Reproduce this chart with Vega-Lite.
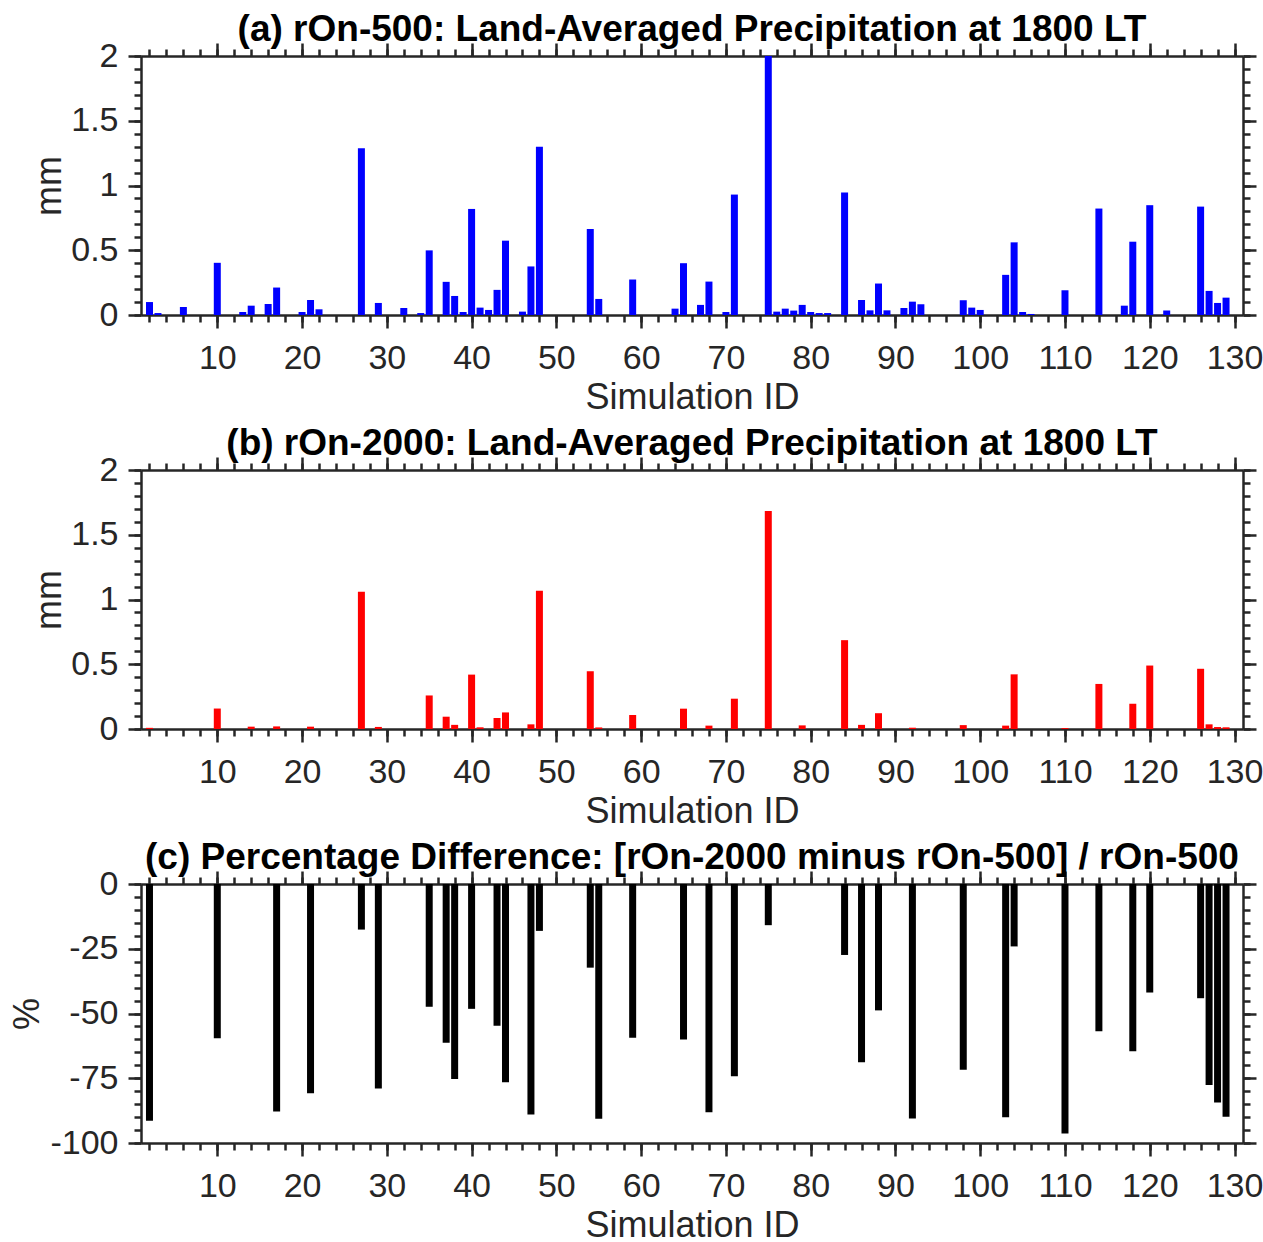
{
  "$schema": "https://vega.github.io/schema/vega-lite/v6.json",
  "background": "white",
  "padding": {"left": 9, "top": 11, "right": 0, "bottom": 0},
  "spacing": 10,
  "datasets": {
    "sims": [
      {"id": 2, "p500": 0.10, "p2000": 0.009, "pct": -91.4},
      {"id": 3, "p500": 0.015, "p2000": null, "pct": null},
      {"id": 6, "p500": 0.062, "p2000": null, "pct": null},
      {"id": 10, "p500": 0.403, "p2000": 0.158, "pct": -59.6},
      {"id": 13, "p500": 0.023, "p2000": null, "pct": null},
      {"id": 14, "p500": 0.072, "p2000": 0.018, "pct": null},
      {"id": 16, "p500": 0.085, "p2000": null, "pct": null},
      {"id": 17, "p500": 0.212, "p2000": 0.02, "pct": -87.8},
      {"id": 20, "p500": 0.023, "p2000": null, "pct": null},
      {"id": 21, "p500": 0.116, "p2000": 0.018, "pct": -80.8},
      {"id": 22, "p500": 0.044, "p2000": null, "pct": null},
      {"id": 27, "p500": 1.287, "p2000": 1.059, "pct": -17.6},
      {"id": 29, "p500": 0.093, "p2000": 0.016, "pct": -79.0},
      {"id": 32, "p500": 0.054, "p2000": null, "pct": null},
      {"id": 34, "p500": 0.015, "p2000": null, "pct": null},
      {"id": 35, "p500": 0.499, "p2000": 0.259, "pct": -47.4},
      {"id": 37, "p500": 0.256, "p2000": 0.095, "pct": -61.3},
      {"id": 38, "p500": 0.147, "p2000": 0.032, "pct": -75.3},
      {"id": 39, "p500": 0.023, "p2000": null, "pct": null},
      {"id": 40, "p500": 0.819, "p2000": 0.42, "pct": -48.2},
      {"id": 41, "p500": 0.057, "p2000": 0.013, "pct": null},
      {"id": 42, "p500": 0.039, "p2000": null, "pct": null},
      {"id": 43, "p500": 0.194, "p2000": 0.085, "pct": -54.7},
      {"id": 44, "p500": 0.574, "p2000": 0.128, "pct": -76.5},
      {"id": 46, "p500": 0.026, "p2000": null, "pct": null},
      {"id": 47, "p500": 0.375, "p2000": 0.036, "pct": -89.0},
      {"id": 48, "p500": 1.30, "p2000": 1.067, "pct": -18.1},
      {"id": 54, "p500": 0.664, "p2000": 0.446, "pct": -32.3},
      {"id": 55, "p500": 0.124, "p2000": 0.012, "pct": -90.6},
      {"id": 59, "p500": 0.274, "p2000": 0.108, "pct": -59.4},
      {"id": 64, "p500": 0.049, "p2000": null, "pct": null},
      {"id": 65, "p500": 0.40, "p2000": 0.157, "pct": -60.0},
      {"id": 67, "p500": 0.078, "p2000": null, "pct": null},
      {"id": 68, "p500": 0.258, "p2000": 0.026, "pct": -88.1},
      {"id": 70, "p500": 0.023, "p2000": null, "pct": null},
      {"id": 71, "p500": 0.930, "p2000": 0.234, "pct": -74.2},
      {"id": 75, "p500": 2.01, "p2000": 1.684, "pct": -15.9},
      {"id": 76, "p500": 0.026, "p2000": null, "pct": null},
      {"id": 77, "p500": 0.049, "p2000": null, "pct": null},
      {"id": 78, "p500": 0.034, "p2000": null, "pct": null},
      {"id": 79, "p500": 0.078, "p2000": 0.028, "pct": null},
      {"id": 80, "p500": 0.023, "p2000": null, "pct": null},
      {"id": 81, "p500": 0.015, "p2000": null, "pct": null},
      {"id": 82, "p500": 0.015, "p2000": null, "pct": null},
      {"id": 84, "p500": 0.946, "p2000": 0.686, "pct": -27.4},
      {"id": 86, "p500": 0.116, "p2000": 0.032, "pct": -68.8},
      {"id": 87, "p500": 0.036, "p2000": null, "pct": null},
      {"id": 88, "p500": 0.243, "p2000": 0.122, "pct": -48.8},
      {"id": 89, "p500": 0.036, "p2000": null, "pct": null},
      {"id": 91, "p500": 0.054, "p2000": null, "pct": null},
      {"id": 92, "p500": 0.103, "p2000": 0.01, "pct": -90.5},
      {"id": 93, "p500": 0.083, "p2000": null, "pct": null},
      {"id": 98, "p500": 0.114, "p2000": 0.03, "pct": -71.7},
      {"id": 99, "p500": 0.057, "p2000": null, "pct": null},
      {"id": 100, "p500": 0.039, "p2000": null, "pct": null},
      {"id": 103, "p500": 0.310, "p2000": 0.026, "pct": -90.1},
      {"id": 104, "p500": 0.561, "p2000": 0.422, "pct": -24.1},
      {"id": 105, "p500": 0.023, "p2000": null, "pct": null},
      {"id": 106, "p500": 0.008, "p2000": null, "pct": null},
      {"id": 110, "p500": 0.191, "p2000": 0.007, "pct": -96.3},
      {"id": 114, "p500": 0.822, "p2000": 0.348, "pct": -56.9},
      {"id": 117, "p500": 0.072, "p2000": null, "pct": null},
      {"id": 118, "p500": 0.566, "p2000": 0.195, "pct": -64.6},
      {"id": 120, "p500": 0.848, "p2000": 0.49, "pct": -41.9},
      {"id": 122, "p500": 0.034, "p2000": null, "pct": null},
      {"id": 126, "p500": 0.837, "p2000": 0.465, "pct": -44.1},
      {"id": 127, "p500": 0.186, "p2000": 0.036, "pct": -77.6},
      {"id": 128, "p500": 0.093, "p2000": 0.015, "pct": -84.4},
      {"id": 129, "p500": 0.134, "p2000": 0.013, "pct": -89.9}
    ]
  },
  "vconcat": [
    {
      "width": 1102, "height": 259,
      "data": {"name": "sims"},
      "title": {"text": "(a) rOn-500: Land-Averaged Precipitation at 1800 LT", "fontSize": 37, "fontWeight": "bold", "font": "Liberation Sans", "color": "#000000", "frame": "group", "anchor": "middle", "baseline": "alphabetic", "offset": -39},
      "layer": [
        {"mark": {"type": "bar", "orient": "vertical", "color": "#0000FF", "width": 7, "clip": true},
         "encoding": {
           "x": {"field": "id", "type": "quantitative", "scale": {"domain": [1, 131], "nice": false, "zero": false, "padding": 0},
                 "axis": {"orient": "bottom", "values": [10,20,30,40,50,60,70,80,90,100,110,120,130], "tickSize": 13, "labelPadding": 13, "title": "Simulation ID", "titlePadding": 5, "labelExpr": "datum.value + ''"}},
           "y": {"field": "p500", "type": "quantitative", "scale": {"domain": [0, 2], "nice": false, "padding": 0},
                 "axis": {"orient": "left", "values": [0, 0.5, 1, 1.5, 2], "tickSize": 13, "labelPadding": 10, "title": "mm", "titlePadding": 2, "labelExpr": "datum.value + ''"}}
         }},
        {"mark": {"type": "bar", "orient": "vertical", "opacity": 0, "width": 7},
         "encoding": {
           "x": {"field": "id", "type": "quantitative", "axis": {"orient": "top", "values": [10,20,30,40,50,60,70,80,90,100,110,120,130], "tickSize": 13, "labels": false, "title": null}},
           "y": {"field": "p500", "type": "quantitative", "axis": {"orient": "right", "values": [0, 0.5, 1, 1.5, 2], "tickSize": 13, "labels": false, "title": null}}
         }},
        {"mark": {"type": "bar", "orient": "vertical", "opacity": 0, "width": 7},
         "encoding": {
           "x": {"field": "id", "type": "quantitative", "axis": {"orient": "bottom", "values": [2,4,6,8,10,12,14,16,18,20,22,24,26,28,30,32,34,36,38,40,42,44,46,48,50,52,54,56,58,60,62,64,66,68,70,72,74,76,78,80,82,84,86,88,90,92,94,96,98,100,102,104,106,108,110,112,114,116,118,120,122,124,126,128,130], "tickSize": 7, "labels": false, "domain": false, "title": null}},
           "y": {"field": "p500", "type": "quantitative", "axis": {"orient": "left", "values": [0,0.1,0.2,0.3,0.4,0.5,0.6,0.7,0.8,0.9,1,1.1,1.2,1.3,1.4,1.5,1.6,1.7,1.8,1.9,2], "tickSize": 7, "labels": false, "domain": false, "title": null}}
         }},
        {"mark": {"type": "bar", "orient": "vertical", "opacity": 0, "width": 7},
         "encoding": {
           "x": {"field": "id", "type": "quantitative", "axis": {"orient": "top", "values": [2,4,6,8,10,12,14,16,18,20,22,24,26,28,30,32,34,36,38,40,42,44,46,48,50,52,54,56,58,60,62,64,66,68,70,72,74,76,78,80,82,84,86,88,90,92,94,96,98,100,102,104,106,108,110,112,114,116,118,120,122,124,126,128,130], "tickSize": 7, "labels": false, "domain": false, "title": null}},
           "y": {"field": "p500", "type": "quantitative", "axis": {"orient": "right", "values": [0,0.1,0.2,0.3,0.4,0.5,0.6,0.7,0.8,0.9,1,1.1,1.2,1.3,1.4,1.5,1.6,1.7,1.8,1.9,2], "tickSize": 7, "labels": false, "domain": false, "title": null}}
         }}
      ]
    },
    {
      "width": 1102, "height": 259,
      "data": {"name": "sims"},
      "title": {"text": "(b) rOn-2000: Land-Averaged Precipitation at 1800 LT", "fontSize": 37, "fontWeight": "bold", "font": "Liberation Sans", "color": "#000000", "frame": "group", "anchor": "middle", "baseline": "alphabetic", "offset": -39},
      "layer": [
        {"mark": {"type": "bar", "orient": "vertical", "color": "#FF0000", "width": 7, "clip": true},
         "encoding": {
           "x": {"field": "id", "type": "quantitative", "scale": {"domain": [1, 131], "nice": false, "zero": false, "padding": 0},
                 "axis": {"orient": "bottom", "values": [10,20,30,40,50,60,70,80,90,100,110,120,130], "tickSize": 13, "labelPadding": 13, "title": "Simulation ID", "titlePadding": 5, "labelExpr": "datum.value + ''"}},
           "y": {"field": "p2000", "type": "quantitative", "scale": {"domain": [0, 2], "nice": false, "padding": 0},
                 "axis": {"orient": "left", "values": [0, 0.5, 1, 1.5, 2], "tickSize": 13, "labelPadding": 10, "title": "mm", "titlePadding": 2, "labelExpr": "datum.value + ''"}}
         }},
        {"mark": {"type": "bar", "orient": "vertical", "opacity": 0, "width": 7},
         "encoding": {
           "x": {"field": "id", "type": "quantitative", "axis": {"orient": "top", "values": [10,20,30,40,50,60,70,80,90,100,110,120,130], "tickSize": 13, "labels": false, "title": null}},
           "y": {"field": "p2000", "type": "quantitative", "axis": {"orient": "right", "values": [0, 0.5, 1, 1.5, 2], "tickSize": 13, "labels": false, "title": null}}
         }},
        {"mark": {"type": "bar", "orient": "vertical", "opacity": 0, "width": 7},
         "encoding": {
           "x": {"field": "id", "type": "quantitative", "axis": {"orient": "bottom", "values": [2,4,6,8,10,12,14,16,18,20,22,24,26,28,30,32,34,36,38,40,42,44,46,48,50,52,54,56,58,60,62,64,66,68,70,72,74,76,78,80,82,84,86,88,90,92,94,96,98,100,102,104,106,108,110,112,114,116,118,120,122,124,126,128,130], "tickSize": 7, "labels": false, "domain": false, "title": null}},
           "y": {"field": "p2000", "type": "quantitative", "axis": {"orient": "left", "values": [0,0.1,0.2,0.3,0.4,0.5,0.6,0.7,0.8,0.9,1,1.1,1.2,1.3,1.4,1.5,1.6,1.7,1.8,1.9,2], "tickSize": 7, "labels": false, "domain": false, "title": null}}
         }},
        {"mark": {"type": "bar", "orient": "vertical", "opacity": 0, "width": 7},
         "encoding": {
           "x": {"field": "id", "type": "quantitative", "axis": {"orient": "top", "values": [2,4,6,8,10,12,14,16,18,20,22,24,26,28,30,32,34,36,38,40,42,44,46,48,50,52,54,56,58,60,62,64,66,68,70,72,74,76,78,80,82,84,86,88,90,92,94,96,98,100,102,104,106,108,110,112,114,116,118,120,122,124,126,128,130], "tickSize": 7, "labels": false, "domain": false, "title": null}},
           "y": {"field": "p2000", "type": "quantitative", "axis": {"orient": "right", "values": [0,0.1,0.2,0.3,0.4,0.5,0.6,0.7,0.8,0.9,1,1.1,1.2,1.3,1.4,1.5,1.6,1.7,1.8,1.9,2], "tickSize": 7, "labels": false, "domain": false, "title": null}}
         }}
      ]
    },
    {
      "width": 1102, "height": 259,
      "data": {"name": "sims"},
      "transform": [{"filter": "isValid(datum.pct)"}],
      "title": {"text": "(c) Percentage Difference: [rOn-2000 minus rOn-500] / rOn-500", "fontSize": 37, "fontWeight": "bold", "font": "Liberation Sans", "color": "#000000", "frame": "group", "anchor": "middle", "baseline": "alphabetic", "offset": -39},
      "layer": [
        {"mark": {"type": "bar", "orient": "vertical", "color": "#000000", "width": 7, "clip": true},
         "encoding": {
           "x": {"field": "id", "type": "quantitative", "scale": {"domain": [1, 131], "nice": false, "zero": false, "padding": 0},
                 "axis": {"orient": "bottom", "values": [10,20,30,40,50,60,70,80,90,100,110,120,130], "tickSize": 13, "labelPadding": 13, "title": "Simulation ID", "titlePadding": 5, "labelExpr": "datum.value + ''"}},
           "y": {"field": "pct", "type": "quantitative", "scale": {"domain": [-100, 0], "nice": false, "padding": 0},
                 "axis": {"orient": "left", "values": [-100, -75, -50, -25, 0], "tickSize": 13, "labelPadding": 10, "title": "%", "titlePadding": 3, "labelExpr": "datum.value + ''"}}
         }},
        {"mark": {"type": "bar", "orient": "vertical", "opacity": 0, "width": 7},
         "encoding": {
           "x": {"field": "id", "type": "quantitative", "axis": {"orient": "top", "values": [10,20,30,40,50,60,70,80,90,100,110,120,130], "tickSize": 13, "labels": false, "title": null}},
           "y": {"field": "pct", "type": "quantitative", "axis": {"orient": "right", "values": [-100, -75, -50, -25, 0], "tickSize": 13, "labels": false, "title": null}}
         }},
        {"mark": {"type": "bar", "orient": "vertical", "opacity": 0, "width": 7},
         "encoding": {
           "x": {"field": "id", "type": "quantitative", "axis": {"orient": "bottom", "values": [2,4,6,8,10,12,14,16,18,20,22,24,26,28,30,32,34,36,38,40,42,44,46,48,50,52,54,56,58,60,62,64,66,68,70,72,74,76,78,80,82,84,86,88,90,92,94,96,98,100,102,104,106,108,110,112,114,116,118,120,122,124,126,128,130], "tickSize": 7, "labels": false, "domain": false, "title": null}},
           "y": {"field": "pct", "type": "quantitative", "axis": {"orient": "left", "values": [-100,-95,-90,-85,-80,-75,-70,-65,-60,-55,-50,-45,-40,-35,-30,-25,-20,-15,-10,-5,0], "tickSize": 7, "labels": false, "domain": false, "title": null}}
         }},
        {"mark": {"type": "bar", "orient": "vertical", "opacity": 0, "width": 7},
         "encoding": {
           "x": {"field": "id", "type": "quantitative", "axis": {"orient": "top", "values": [2,4,6,8,10,12,14,16,18,20,22,24,26,28,30,32,34,36,38,40,42,44,46,48,50,52,54,56,58,60,62,64,66,68,70,72,74,76,78,80,82,84,86,88,90,92,94,96,98,100,102,104,106,108,110,112,114,116,118,120,122,124,126,128,130], "tickSize": 7, "labels": false, "domain": false, "title": null}},
           "y": {"field": "pct", "type": "quantitative", "axis": {"orient": "right", "values": [-100,-95,-90,-85,-80,-75,-70,-65,-60,-55,-50,-45,-40,-35,-30,-25,-20,-15,-10,-5,0], "tickSize": 7, "labels": false, "domain": false, "title": null}}
         }}
      ]
    }
  ],
  "config": {
    "view": {"stroke": null},
    "axis": {
      "grid": false,
      "domainColor": "#262626", "domainWidth": 2.5,
      "tickColor": "#262626", "tickWidth": 2.5,
      "labelFont": "Liberation Sans", "labelFontSize": 34, "labelColor": "#262626",
      "labelFlush": false, "labelOverlap": false,
      "titleFont": "Liberation Sans", "titleFontSize": 36, "titleFontWeight": "normal", "titleColor": "#262626"
    }
  }
}
